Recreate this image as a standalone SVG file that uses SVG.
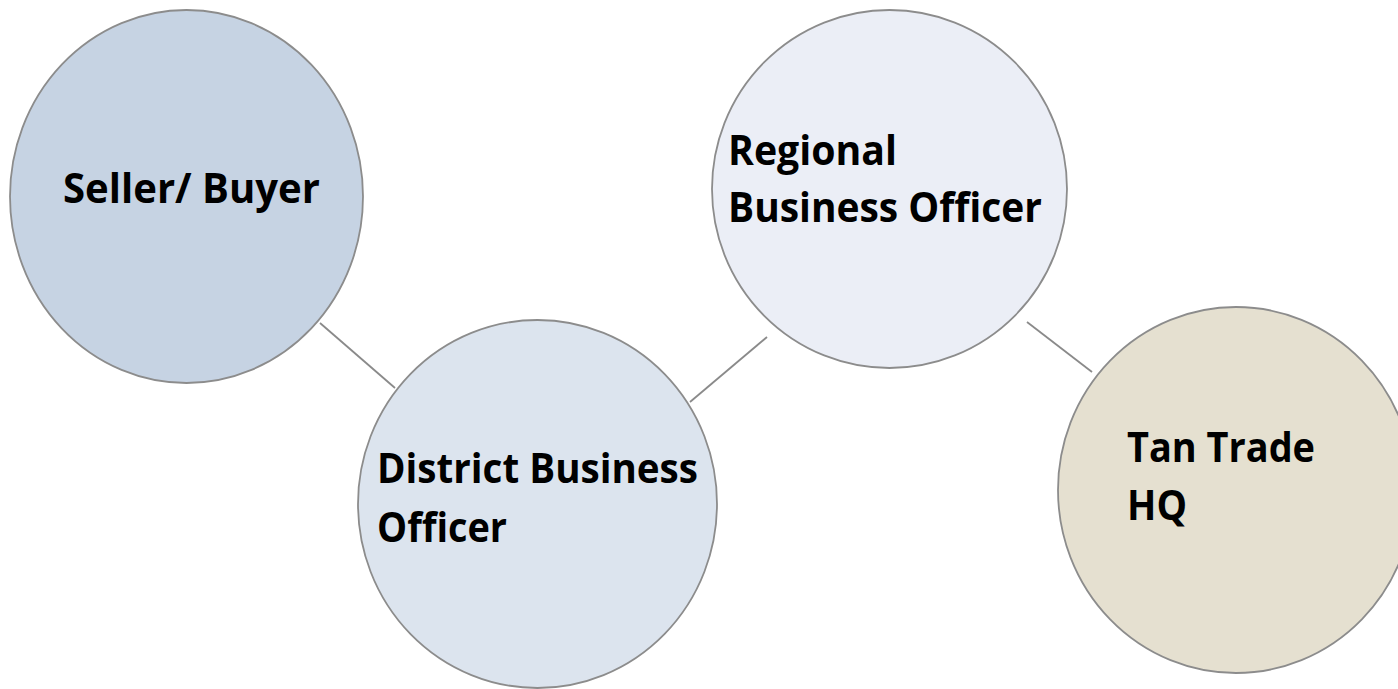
<svg xmlns="http://www.w3.org/2000/svg" width="1398" height="689" viewBox="0 0 1398 689">
<style>
.node{stroke:#8c8c8c;stroke-width:1.8}
.conn{stroke:#8a8a8a;stroke-width:1.8;fill:none}
.lbl{font-family:"Open Sans","Liberation Sans",sans-serif;font-weight:700;font-size:42px;fill:#000}
</style>
<rect width="1398" height="689" fill="#ffffff"/>
<g id="connectors">
<line class="conn" x1="320" y1="323" x2="395" y2="388"/>
<line class="conn" x1="690" y1="402" x2="767" y2="337"/>
<line class="conn" x1="1027" y1="322" x2="1092" y2="372"/>
</g>
<g id="seller-buyer">
<ellipse class="node" cx="186.5" cy="196.5" rx="176.5" ry="186.5" fill="#c6d3e3"/>
<text class="lbl" x="63" y="203" textLength="257" lengthAdjust="spacingAndGlyphs">Seller/ Buyer</text>
</g>
<g id="district-business-officer">
<ellipse class="node" cx="537.5" cy="504" rx="179.5" ry="184" fill="#dce4ee"/>
<text class="lbl" x="377" y="483" textLength="321" lengthAdjust="spacingAndGlyphs">District Business</text>
<text class="lbl" x="377" y="542" textLength="130" lengthAdjust="spacingAndGlyphs">Officer</text>
</g>
<g id="regional-business-officer">
<ellipse class="node" cx="889.5" cy="189" rx="177.5" ry="179" fill="#ebeef6"/>
<text class="lbl" x="728" y="165" textLength="169" lengthAdjust="spacingAndGlyphs">Regional</text>
<text class="lbl" x="728" y="222" textLength="314" lengthAdjust="spacingAndGlyphs">Business Officer</text>
</g>
<g id="tan-trade-hq">
<ellipse class="node" cx="1236" cy="490" rx="178" ry="183" fill="#e5e0d0"/>
<text class="lbl" x="1127" y="462" textLength="188" lengthAdjust="spacingAndGlyphs">Tan Trade</text>
<text class="lbl" x="1127" y="520" textLength="60" lengthAdjust="spacingAndGlyphs">HQ</text>
</g>
</svg>
